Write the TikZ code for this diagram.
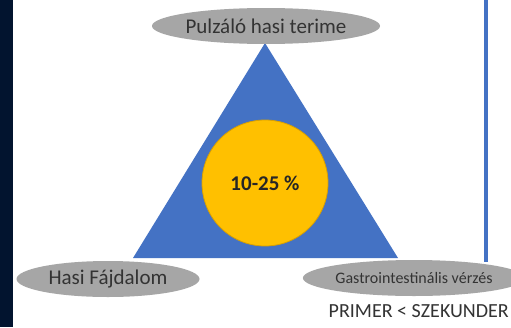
\documentclass[tikz,border=0pt]{standalone}
\usepackage{fontspec}
\setmainfont{Carlito}
\usetikzlibrary{positioning}
\usetikzlibrary{shapes,calc}
\definecolor{navy}{HTML}{02142F}
\definecolor{triblue}{HTML}{4472C4}
\definecolor{gold}{HTML}{FFC000}
\definecolor{goldedge}{HTML}{D9A000}
\definecolor{signgrey}{HTML}{A6A6A6}
\tikzset{
    sign/.style={
           ellipse,
           fill=signgrey,
           minimum height=36pt,
           inner sep=0pt,
           text=black!80,
           text centered,
           },
    core/.style={
           circle,
           fill=gold,
           draw=goldedge, thick,
           minimum size=126pt,
           inner sep=0pt,
           text=black!85,
           },
}

\begin{document}
\begin{tikzpicture}
[
x=1pt,y=-1pt
]

 % page frame, cut to the slide size
 \clip (0,0) rectangle (511,327);
 \fill[white] (0,0) rectangle (511,327);
 \fill[navy] (0,0) rectangle (13,327);

 % divider line on the right
 \draw[triblue, line width=4pt] (486,0) -- (486,262);

 % TRIANGLE
 \coordinate (APEX) at (265,43);
 \coordinate (BASEL) at (133,258);
 \coordinate (BASER) at (398,258);
 \fill[triblue] (APEX) -- (BASEL) -- (BASER) -- cycle;

 % CENTRE
 \node[core] (RATE) at (265,183)
 {%
 \fontsize{21}{25}\selectfont\textbf{10-25 \%}
 };

 % CORNERS
 \node[sign,
 minimum width=228pt] (MASS) at (266,26)
 {%
 \fontsize{21}{25}\selectfont Pulzáló hasi terime
 };

 \node[sign,
 minimum width=183pt] (PAIN) at (108,279)
 {%
 \fontsize{21}{25}\selectfont Hasi Fájdalom
 };

 \node[sign,
 minimum width=202pt] (BLEED) at (414,278)
 {%
 \fontsize{16}{19}\selectfont Gastrointestinális vérzés
 };

 \node[anchor=east, text=black!80, inner sep=1pt] (ORDER) at (510,311)
 {%
 \fontsize{20}{24}\selectfont PRIMER < SZEKUNDER
 };

\end{tikzpicture}
\end{document}
